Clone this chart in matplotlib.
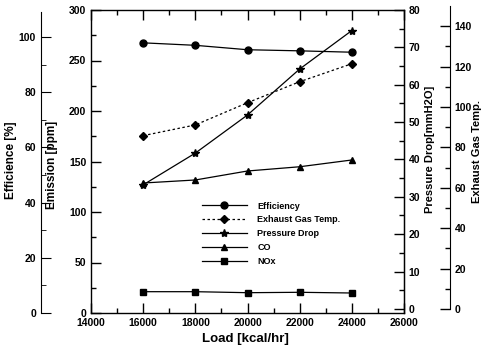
import matplotlib.pyplot as plt
from matplotlib.ticker import MultipleLocator

plt.rcParams['font.family'] = ['Liberation Sans', 'DejaVu Sans']
plt.rcParams['font.weight'] = 'bold'

load = [16000, 18000, 20000, 22000, 24000]
efficiency = [97.9, 97.0, 95.4, 95.0, 94.5]
exhaust_temp = [85.8, 91.1, 102.1, 112.5, 121.4]
pressure_drop = [33.2, 41.7, 51.9, 64.2, 74.5]
co = [128.7, 131.7, 140.6, 144.8, 151.5]
nox = [21.1, 21.1, 20.1, 20.5, 19.8]

W, H = 482, 356
fig = plt.figure(figsize=(W / 100, H / 100), dpi=100)
x0, x1, y0, y1 = 91, 404, 313, 10
ax = fig.add_axes([x0 / W, 1 - y0 / H, (x1 - x0) / W, (y0 - y1) / H])

fs = 7.5

def style_ticks(a, which_axis='y'):
    a.tick_params(axis=which_axis, which='major', direction='in', length=7, width=1, labelsize=fs)
    a.tick_params(axis=which_axis, which='minor', direction='in', length=3.5, width=1)

# emission axis (main)
ax.set_xlim(14000, 26000)
ax.set_ylim(0, 300)
ax.xaxis.set_major_locator(MultipleLocator(2000))
ax.xaxis.set_minor_locator(MultipleLocator(1000))
ax.yaxis.set_major_locator(MultipleLocator(50))
ax.yaxis.set_minor_locator(MultipleLocator(25))
ax.tick_params(axis='x', which='both', top=True, labeltop=False)
style_ticks(ax, 'x')
style_ticks(ax, 'y')
ax.tick_params(axis='y', right=False)
for s in ax.spines.values():
    s.set_linewidth(1)

# efficiency axis (far left)
ax_eff = ax.twinx()
ax_eff.set_ylim(0, 109.8)
ax_eff.yaxis.tick_left()
ax_eff.spines['left'].set_position(('axes', -0.16))
ax_eff.spines['left'].set_bounds(0, 109)
for k in ['right', 'top', 'bottom']:
    ax_eff.spines[k].set_visible(False)
ax_eff.yaxis.set_major_locator(MultipleLocator(20))
ax_eff.yaxis.set_minor_locator(MultipleLocator(10))
ax_eff.tick_params(axis='y', which='major', direction='in', length=7, labelsize=fs)
ax_eff.tick_params(axis='y', which='minor', direction='in', length=3.5)

# pressure drop axis (right spine)
ax_p = ax.twinx()
ax_p.set_ylim(-1.1, 79.5)
ax_p.spines['right'].set_bounds(0, 80)
for k in ['left', 'top', 'bottom']:
    ax_p.spines[k].set_visible(False)
ax_p.yaxis.set_minor_locator(MultipleLocator(5))
ax_p.set_yticks(range(0, 81, 10))
style_ticks(ax_p)

# exhaust gas temp axis (far right)
ax_exh = ax.twinx()
ax_exh.set_ylim(-2, 148)
ax_exh.spines['right'].set_position(('axes', 1.147))
ax_exh.spines['right'].set_bounds(0, 150)
for k in ['left', 'top', 'bottom']:
    ax_exh.spines[k].set_visible(False)
ax_exh.yaxis.set_major_locator(MultipleLocator(20))
ax_exh.yaxis.set_minor_locator(MultipleLocator(10))
style_ticks(ax_exh)

lw = 0.9
h1, = ax_eff.plot(load, efficiency, '-', color='black', lw=lw, marker='o', ms=5, label='Efficiency')
h2, = ax_exh.plot(load, exhaust_temp, color='black', lw=lw, ls=(0, (2, 2)), marker='D', ms=4, label='Exhaust Gas Temp.')
h3, = ax_p.plot(load, pressure_drop, '-', color='black', lw=lw, marker='*', ms=6, label='Pressure Drop')
h4, = ax.plot(load, co, '-', color='black', lw=lw, marker='^', ms=4.5, label='CO')
h5, = ax.plot(load, nox, '-', color='black', lw=lw, marker='s', ms=4.5, label='NOx')

fig.legend(handles=[h1, h2, h3, h4, h5], loc='upper left', frameon=False,
           bbox_to_anchor=(197 / W, 1 - 197 / H), fontsize=6.5, handlelength=5,
           labelspacing=0.55, borderpad=0, handletextpad=1.2)

fig.text(245 / W, 1 - 339 / H, 'Load [kcal/hr]', ha='center', va='center', fontsize=9.5)
fig.text(11 / W, 1 - 160 / H, 'Efficience [%]', ha='center', va='center', rotation=90, fontsize=8.5)
fig.text(52 / W, 1 - 165 / H, 'Emission [ppm]', ha='center', va='center', rotation=90, fontsize=8.5)
fig.text(430 / W, 1 - 149 / H, 'Pressure Drop[mmH2O]', ha='center', va='center', rotation=90, fontsize=8)
fig.text(476.5 / W, 1 - 152 / H, 'Exhaust Gas Temp.', ha='center', va='center', rotation=90, fontsize=8)

fig.savefig('out.png', dpi=100)
